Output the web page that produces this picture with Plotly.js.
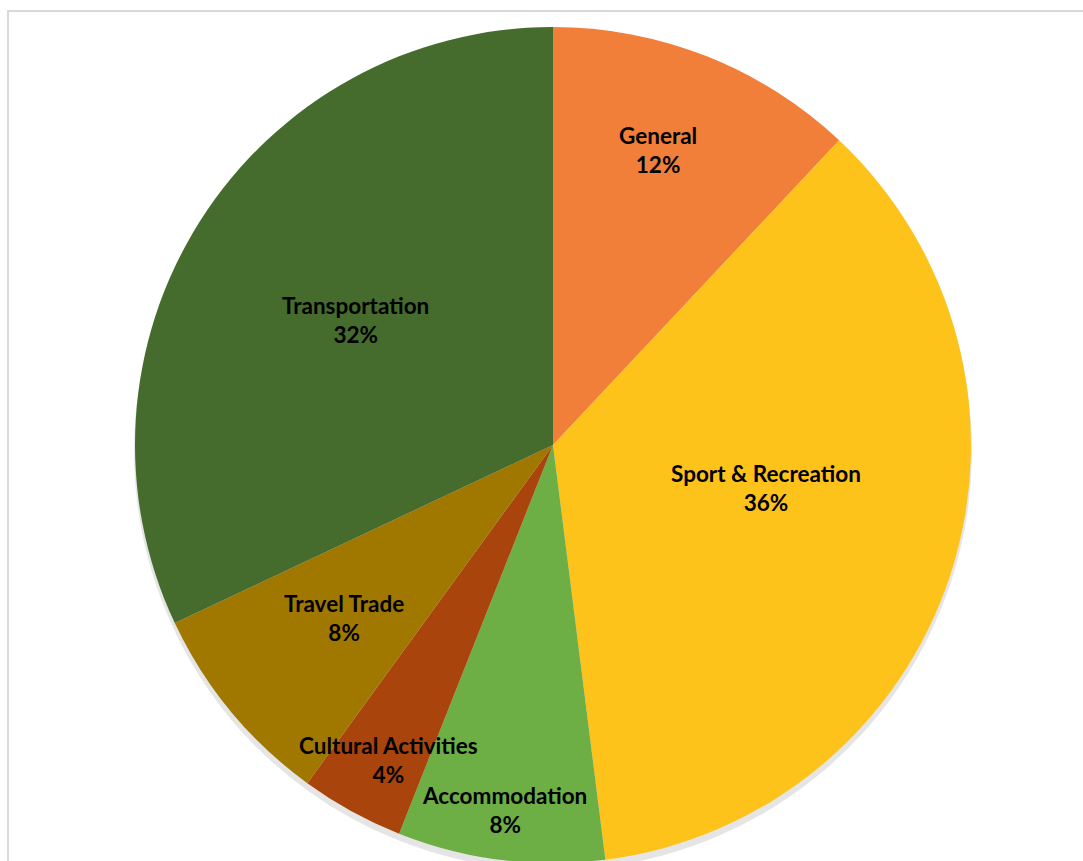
<!DOCTYPE html>
<html>
<head>
<meta charset="utf-8">
<script src="https://cdn.plot.ly/plotly-3.0.1.min.js"></script>
<style>
html,body{margin:0;padding:0;overflow:hidden;background:#fff;}
#chart{width:1083px;height:870px;}
</style>
</head>
<body>
<div id="chart"></div>
<script>
const categories = ["General", "Sport & Recreation", "Accommodation", "Cultural Activities", "Travel Trade", "Transportation"];
const shares = [12, 36, 8, 4, 8, 32];
const colors = ["#F17F3A", "#FEC31A", "#6DAE45", "#A9440C", "#A07800", "#456B2D"];
// data-label placement relative to each slice (style): radius fraction and angle shift in degrees
const labelRadius = [0.75, 0.52, 0.88, 0.85, 0.65, 0.56];
const labelAngleShift = [-2, -6.6, 0.3, -1.2, 0, 0];

const W = 1083, H = 870;
const CX = 553, CY = 445, R = 418;
const domain = {x: [(CX - R) / W, (CX + R) / W], y: [(H - CY - R) / H, (H - CY + R) / H]};

const total = shares.reduce((a, b) => a + b, 0);
const annotations = [];
let cum = 0;
shares.forEach((v, i) => {
  const mid = (cum + v / 2) / total * 2 * Math.PI + labelAngleShift[i] * Math.PI / 180;
  cum += v;
  const px = CX + R * labelRadius[i] * Math.sin(mid);
  const py = CY - R * labelRadius[i] * Math.cos(mid);
  annotations.push({
    xref: "paper", yref: "paper",
    x: px / W, y: (H - py) / H,
    xanchor: "center", yanchor: "middle",
    text: categories[i] + "<br>" + Math.round(v / total * 100) + "%",
    showarrow: false,
    font: {family: "Lato, 'Open Sans', sans-serif", size: 22.5, color: "#000", weight: "bold"},
    align: "center"
  });
});

const shadow = {
  type: "pie",
  labels: categories,
  values: shares,
  sort: false,
  direction: "clockwise",
  marker: {colors: categories.map(() => "rgba(0,0,0,0.10)"), line: {width: 0}},
  textinfo: "none",
  hoverinfo: "skip",
  domain: {x: [(CX - R - 1) / W, (CX + R + 1) / W], y: [(H - CY - R - 7) / H, (H - CY + R - 5) / H]},
  showlegend: false
};

const trace = {
  type: "pie",
  labels: categories,
  values: shares,
  sort: false,
  direction: "clockwise",
  rotation: 0,
  marker: {colors: colors, line: {width: 0}},
  textinfo: "none",
  hoverinfo: "label+percent",
  domain: domain,
  showlegend: false
};

const layout = {
  width: W,
  height: H,
  margin: {l: 0, r: 0, t: 0, b: 0},
  paper_bgcolor: "#fff",
  showlegend: false,
  annotations: annotations,
  shapes: [{
    type: "rect", xref: "paper", yref: "paper",
    x0: 8 / W, x1: 1.05, y0: -0.05, y1: 1 - 11 / H,
    line: {color: "#D9D9D9", width: 2}, layer: "below"
  }]
};

Plotly.newPlot("chart", [shadow, trace], layout, {displayModeBar: false, staticPlot: true});
</script>
</body>
</html>
